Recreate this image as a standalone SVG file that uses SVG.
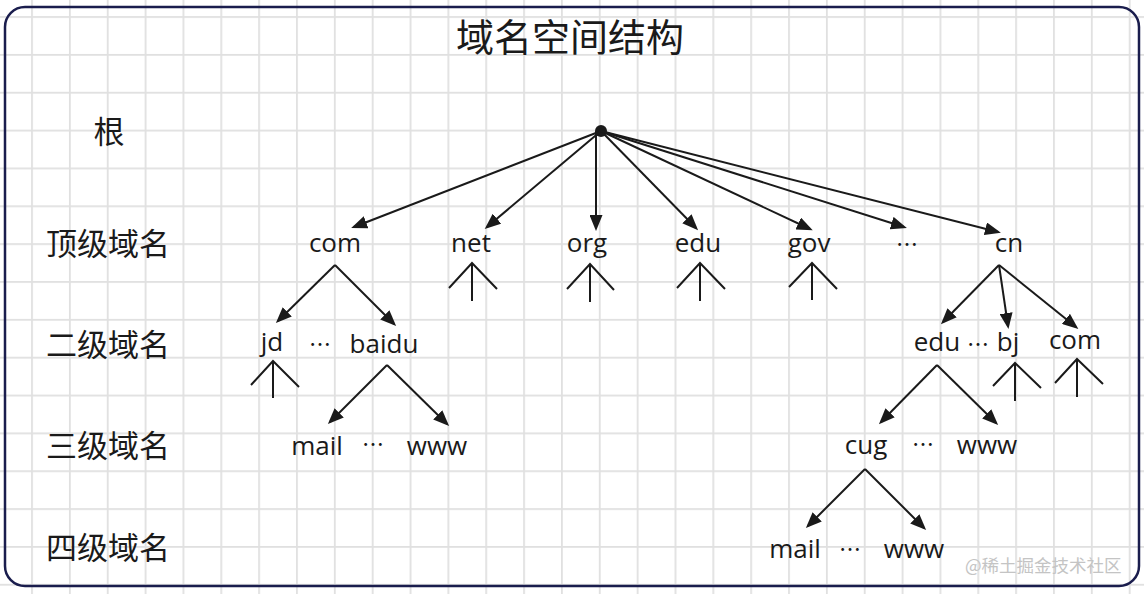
<svg xmlns="http://www.w3.org/2000/svg" width="1144" height="594" viewBox="0 0 1144 594">
<defs>
<pattern id="grid" patternUnits="userSpaceOnUse" x="31.1" y="16.1" width="37.85" height="37.85">
<rect x="0" y="0" width="1.8" height="37.85" fill="#e0e0e0"/>
<rect x="0" y="0" width="37.85" height="1.8" fill="#e0e0e0"/>
</pattern>
<marker id="arr" viewBox="0 0 16 13" refX="13" refY="6.5" markerWidth="16" markerHeight="13" markerUnits="userSpaceOnUse" orient="auto">
<path d="M0,0 L16,6.5 L0,13 z" fill="#1a1a1a"/>
</marker>
<style>
.lbl{font-family:"Noto Sans CJK SC","Noto Sans",sans-serif;font-size:31px;fill:#1a1a1a;text-anchor:middle}
.ttl{font-family:"Noto Sans CJK SC","Noto Sans",sans-serif;font-size:38px;fill:#1a1a1a;text-anchor:middle}
.nd{font-family:"Open Sans","Noto Sans",sans-serif;font-size:26px;fill:#1a1a1a;text-anchor:middle}
.dots{font-family:"Noto Sans CJK SC",sans-serif;font-size:22px;fill:#1a1a1a;text-anchor:middle}
.ar{stroke:#1a1a1a;stroke-width:2;fill:none;marker-end:url(#arr)}
.st{stroke:#1a1a1a;stroke-width:2;fill:none}
.wm{font-family:"Noto Sans CJK SC",sans-serif;font-size:17.5px;fill:#c4c4c4}
</style>
</defs>
<rect x="0" y="0" width="1144" height="594" fill="#ffffff"/>
<rect x="0" y="0" width="1144" height="594" fill="url(#grid)"/>
<rect id="frame" x="5" y="7" width="1134" height="579" rx="20" ry="20" fill="none" stroke="#1a1d4d" stroke-width="2.5"/>

<g id="title"><text class="ttl" x="570" y="51">域名空间结构</text></g>

<g id="levels">
<text class="lbl" x="109" y="143">根</text>
<text class="lbl" x="108" y="255">顶级域名</text>
<text class="lbl" x="108" y="356">二级域名</text>
<text class="lbl" x="108" y="457">三级域名</text>
<text class="lbl" x="108" y="559">四级域名</text>
</g>

<g id="root"><circle cx="601" cy="131" r="6" fill="#1a1a1a"/></g>

<g id="n-com"><text class="nd" x="335" y="252">com</text></g>
<g id="n-net"><text class="nd" x="471" y="252">net</text></g>
<g id="n-org"><text class="nd" x="587" y="252">org</text></g>
<g id="n-edu"><text class="nd" x="698" y="252">edu</text></g>
<g id="n-gov"><text class="nd" x="809" y="252">gov</text></g>
<g id="n-more1"><text class="dots" x="907" y="252">…</text></g>
<g id="n-cn"><text class="nd" x="1009" y="252">cn</text></g>

<g id="n-jd"><text class="nd" x="272" y="351">jd</text></g>
<g id="n-more2"><text class="dots" x="320" y="352">…</text></g>
<g id="n-baidu"><text class="nd" x="384" y="353">baidu</text></g>
<g id="n-edu2"><text class="nd" x="937" y="351">edu</text></g>
<g id="n-more3"><text class="dots" x="978" y="352">…</text></g>
<g id="n-bj"><text class="nd" x="1008" y="351">bj</text></g>
<g id="n-com2"><text class="nd" x="1075" y="349">com</text></g>

<g id="n-mail1"><text class="nd" x="317" y="455">mail</text></g>
<g id="n-more4"><text class="dots" x="373" y="452">…</text></g>
<g id="n-www1"><text class="nd" x="437" y="455">www</text></g>
<g id="n-cug"><text class="nd" x="866" y="454">cug</text></g>
<g id="n-more5"><text class="dots" x="923" y="452">…</text></g>
<g id="n-www2"><text class="nd" x="987" y="454">www</text></g>

<g id="n-mail2"><text class="nd" x="795" y="558">mail</text></g>
<g id="n-more6"><text class="dots" x="850" y="557">…</text></g>
<g id="n-www3"><text class="nd" x="914" y="558">www</text></g>

<g id="connectors">
<line class="ar" x1="601" y1="131" x2="354" y2="227"/>
<line class="ar" x1="601" y1="131" x2="487" y2="227"/>
<line class="ar" x1="596" y1="131" x2="596" y2="228"/>
<line class="ar" x1="601" y1="131" x2="696" y2="228"/>
<line class="ar" x1="601" y1="131" x2="810" y2="229"/>
<line class="ar" x1="601" y1="131" x2="904" y2="227"/>
<line class="ar" x1="601" y1="131" x2="998" y2="232"/>

<line class="ar" x1="335" y1="265" x2="278" y2="321"/>
<line class="ar" x1="335" y1="265" x2="394" y2="324"/>
<line class="ar" x1="387" y1="365" x2="330" y2="422"/>
<line class="ar" x1="387" y1="365" x2="447" y2="424"/>
<line class="ar" x1="999" y1="265" x2="943" y2="322"/>
<line class="ar" x1="999" y1="265" x2="1008" y2="326"/>
<line class="ar" x1="999" y1="265" x2="1076" y2="327"/>
<line class="ar" x1="937" y1="365" x2="881" y2="422"/>
<line class="ar" x1="937" y1="365" x2="996" y2="423"/>
<line class="ar" x1="865" y1="469" x2="808" y2="526"/>
<line class="ar" x1="865" y1="469" x2="924" y2="528"/>

<path class="st" d="M449,288 L472,263 L497,289 M472,263 V301"/>
<path class="st" d="M567,289 L590,264 L614,290 M590,264 V302"/>
<path class="st" d="M677,288 L700,263 L725,289 M700,263 V301"/>
<path class="st" d="M789,287 L812,263 L837,289 M812,263 V300"/>
<path class="st" d="M251,385 L273,361 L299,387 M273,361 V398"/>
<path class="st" d="M993,386 L1015,363 L1041,388 M1015,363 V401"/>
<path class="st" d="M1055,383 L1077,359 L1103,384 M1077,359 V397"/>
</g>

<text class="wm" x="965" y="572">@稀土掘金技术社区</text>
</svg>
